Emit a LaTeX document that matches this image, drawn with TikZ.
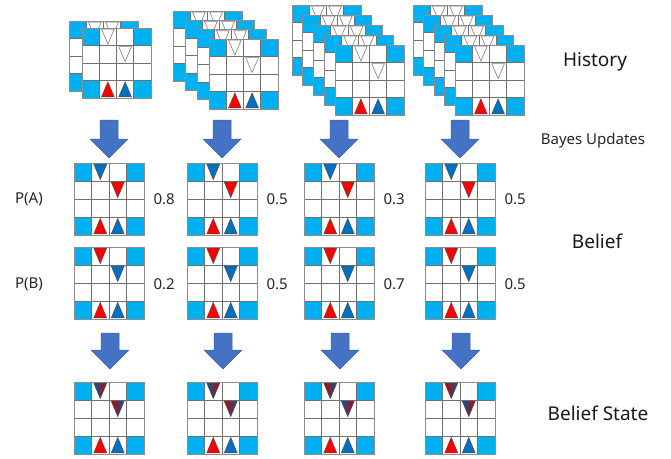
\documentclass[tikz,border=0pt]{standalone}
\usepackage{fontspec}
\setmainfont{Noto Sans}
\definecolor{cellblue}{HTML}{00B0F0}
\definecolor{agentred}{HTML}{FF0000}
\definecolor{agentblue}{HTML}{0070C0}
\definecolor{arrowblue}{HTML}{4472C4}
\definecolor{arrowedge}{HTML}{3A62AD}
\definecolor{gridcol}{HTML}{707070}
\definecolor{ghostcol}{HTML}{7F7F7F}

\tikzset{
  redagent/.style={fill=agentred, draw=black!70, line width=0.5pt},
  blueagent/.style={fill=agentblue, draw=black!70, line width=0.5pt},
  ghost/.style={fill=white, draw=ghostcol, line width=0.6pt},
  mixBR/.style={left color=agentblue!80!black, right color=agentred!80!black, draw=black!70, line width=0.5pt},
  mixRB/.style={left color=agentred!80!black, right color=agentblue!80!black, draw=black!70, line width=0.5pt},
  flowarrow/.style={fill=arrowblue, draw=arrowedge, line width=0.5pt},
  rowlabel/.style={font=\fontsize{15}{18}\selectfont, text=black!85},
  problabel/.style={font=\fontsize{15}{18}\selectfont, text=black!85, anchor=west},
  sidelabel/.style={font=\fontsize{19}{22}\selectfont, text=black!90},
}

% triangles inside cell (column #1, row #2), row 0 at the top
\newcommand\uptri[3]{\path[#3] (#1+0.13,#2+0.94) -- (#1+0.87,#2+0.94) -- (#1+0.5,#2+0.08) -- cycle;}
\newcommand\dntri[3]{\path[#3] (#1+0.13,#2+0.06) -- (#1+0.87,#2+0.06) -- (#1+0.5,#2+0.92) -- cycle;}

% empty 4x4 board with cyan corner cells and the two agents
\newcommand\cells{%
  \fill[white] (0,0) rectangle (4,4);
  \fill[cellblue] (0,0) rectangle (1,1) (3,0) rectangle (4,1)
                  (0,3) rectangle (1,4) (3,3) rectangle (4,4);
  \foreach \i in {1,2,3} {
    \draw[gridcol, line width=0.6pt] (\i,0) -- (\i,4);
    \draw[gridcol, line width=0.6pt] (0,\i) -- (4,\i);
  }
  \draw[gridcol!80, line width=0.7pt] (0,0) rectangle (4,4);
  \uptri{1}{3}{redagent}
  \uptri{2}{3}{blueagent}
}

% history boards: earlier steps (behind) and the latest step (front)
\newcommand\histback[2]{%
  \begin{scope}[shift={(#1,#2)}, x=17.25pt, y=-17.5pt]
    \cells
    \dntri{1}{0}{ghost}
    \dntri{2}{0}{ghost}
  \end{scope}}
\newcommand\histfront[2]{%
  \begin{scope}[shift={(#1,#2)}, x=17.25pt, y=-17.5pt]
    \cells
    \dntri{1}{0}{ghost}
    \dntri{2}{1}{ghost}
  \end{scope}}

% belief boards: #3 style of the upper triangle, #4 style of the lower one
\newcommand\beliefboard[4]{%
  \begin{scope}[shift={(#1,#2)}, x=17.5pt, y=-18pt]
    \cells
    \dntri{1}{0}{#3}
    \dntri{2}{1}{#4}
  \end{scope}}

% block arrow pointing down, centred at x=#1, from y=#2 to tip y=#3
\newcommand\blockarrow[4]{%
  \path[flowarrow] (#1-9,#2) -- (#1+9,#2) -- (#1+9,#3-19) -- (#1+19,#3-19)
     -- (#1,#3) -- (#1-19,#3-19) -- (#1-9,#3-19) -- cycle;
  \coordinate (#4) at (#1,#3);}

\begin{document}
\begin{tikzpicture}[x=1pt, y=-1pt]
\useasboundingbox (0,0) rectangle (671,458);
\fill[white] (0,0) rectangle (671,458);

% ---- history stacks ----
\histback{69}{21}
\histfront{82}{28}

\foreach \k in {0,1,2} {\histback{173+12*\k}{11+9.33*\k}}
\histfront{209}{39}

\foreach \k in {0,1,2,3} {\histback{292+10.75*\k}{5+10*\k}}
\histfront{335}{45}

\foreach \k in {0,1,2,3} {\histback{413+10.5*\k}{5+10*\k}}
\histfront{455}{45}

% ---- Bayes update arrows ----
\blockarrow{109}{120}{158}{u1}
\blockarrow{222}{120}{158}{u2}
\blockarrow{339}{120}{158}{u3}
\blockarrow{460}{120}{158}{u4}

% ---- beliefs over the two hypotheses ----
\beliefboard{74}{163}{blueagent}{redagent}
\beliefboard{187}{163}{blueagent}{redagent}
\beliefboard{304}{163}{blueagent}{redagent}
\beliefboard{425}{163}{blueagent}{redagent}

\beliefboard{74}{247}{redagent}{blueagent}
\beliefboard{187}{247}{redagent}{blueagent}
\beliefboard{304}{247}{redagent}{blueagent}
\beliefboard{425}{247}{redagent}{blueagent}

\node[rowlabel] (pa) at (29,199) {P(A)};
\node[rowlabel] (pb) at (29,284) {P(B)};

\node[problabel] (a1) at (150,199) {0.8};
\node[problabel] (a2) at (263,199) {0.5};
\node[problabel] (a3) at (380,199) {0.3};
\node[problabel] (a4) at (501,199) {0.5};
\node[problabel] (b1) at (150,284) {0.2};
\node[problabel] (b2) at (263,284) {0.5};
\node[problabel] (b3) at (380,284) {0.7};
\node[problabel] (b4) at (501,284) {0.5};

% ---- arrows to belief states ----
\blockarrow{110}{333}{369}{s1}
\blockarrow{223}{333}{369}{s2}
\blockarrow{340}{333}{369}{s3}
\blockarrow{461}{333}{369}{s4}

% ---- belief states ----
\beliefboard{74}{382}{mixBR}{mixRB}
\beliefboard{187}{382}{mixBR}{mixRB}
\beliefboard{304}{382}{mixRB}{mixBR}
\beliefboard{425}{382}{mixRB}{mixBR}

% ---- side captions ----
\node[sidelabel] (history) at (595,62) {History};
\node[rowlabel] (bayes) at (593,141) {Bayes Updates};
\node[sidelabel] (belief) at (597,241) {Belief};
\node[sidelabel] (bstate) at (598,413) {Belief State};
\end{tikzpicture}
\end{document}
